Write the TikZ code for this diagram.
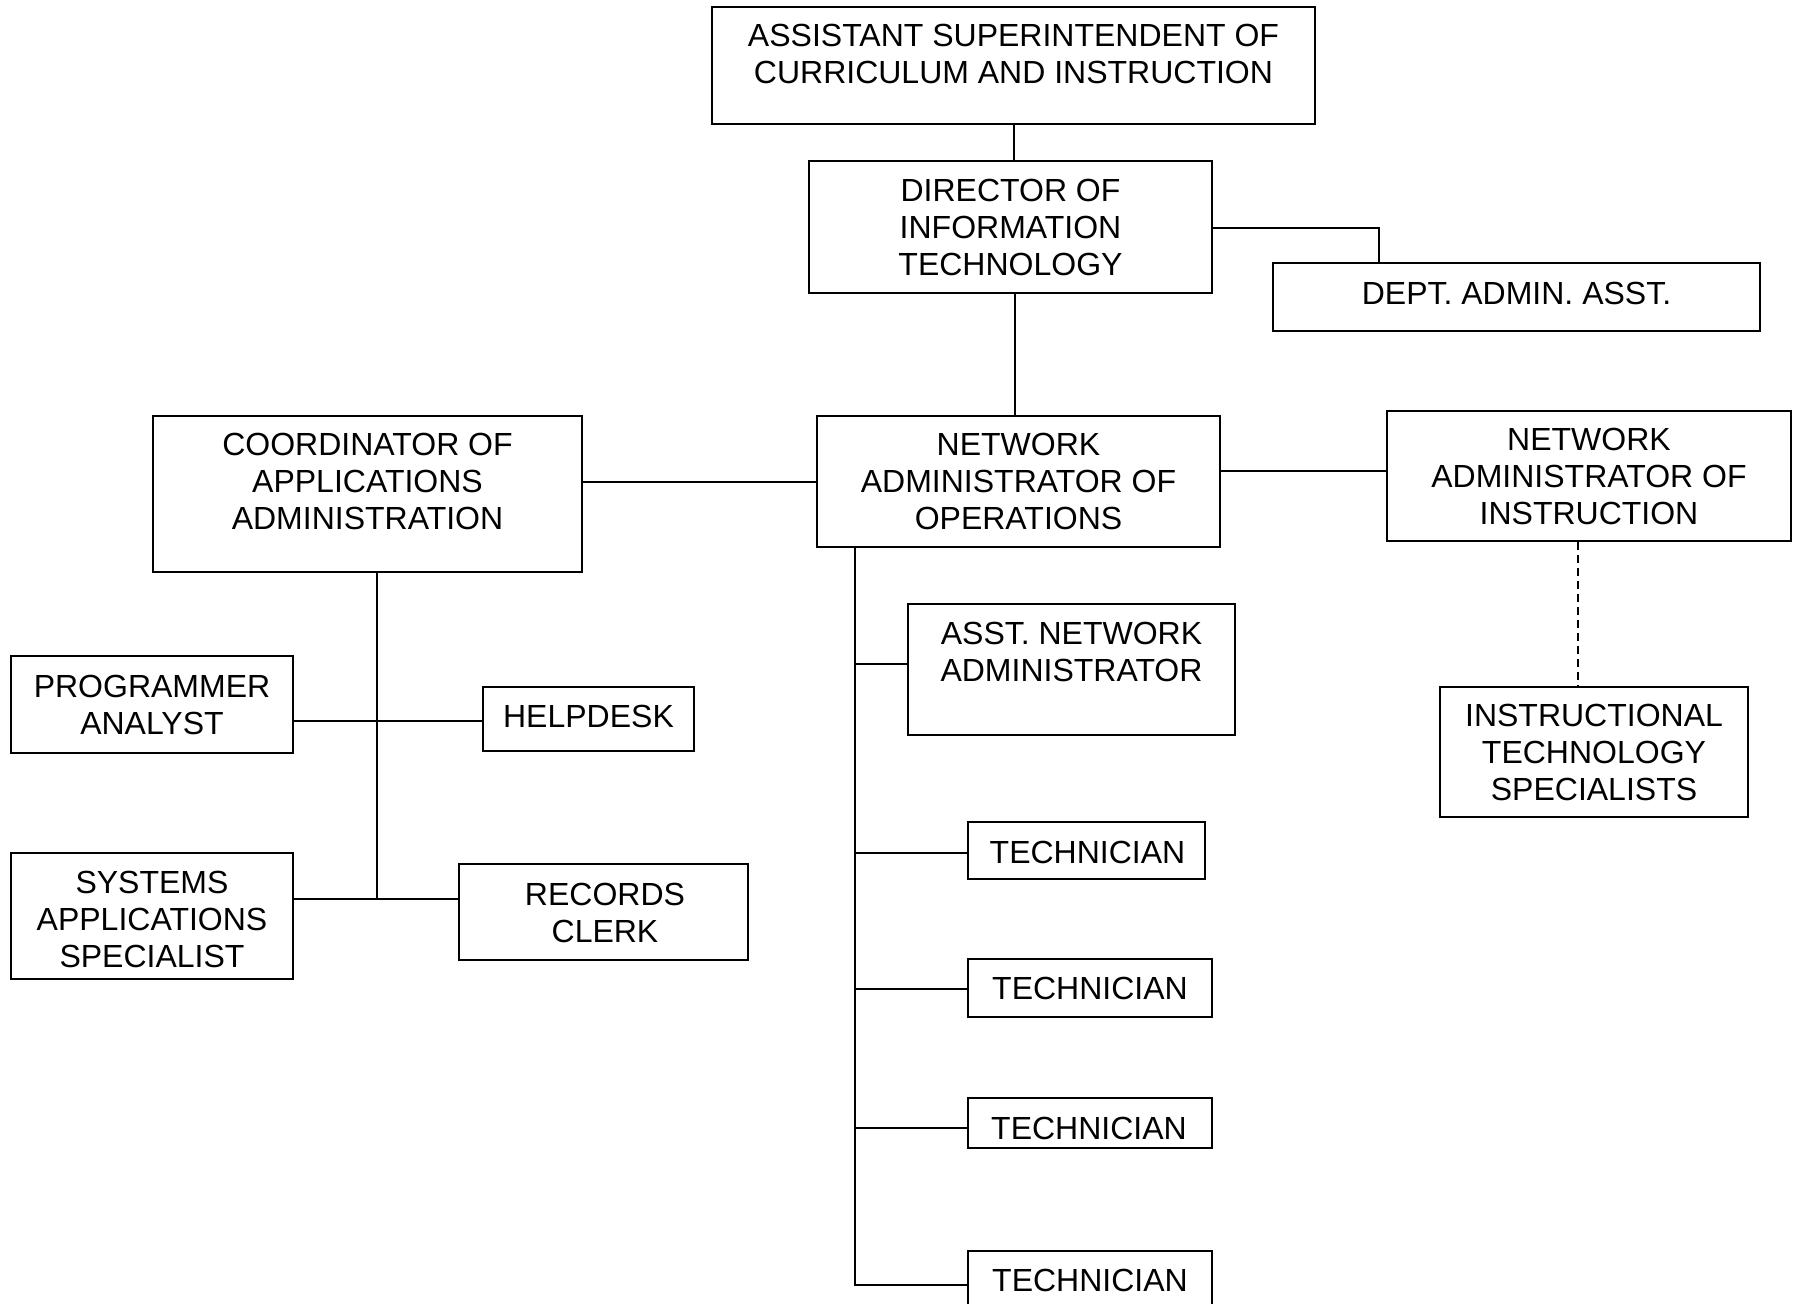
\documentclass[tikz,border=0pt]{standalone}
\usepackage{fontspec}
\setmainfont{Liberation Sans}
\begin{document}
\begin{tikzpicture}[x=0.5pt,y=-0.5pt,
  box/.style={draw,line width=1pt,rectangle,inner sep=0pt,align=center,
    font=\fontsize{16}{18.5}\selectfont},
  lbl/.style={inner sep=0pt,align=center,font=\fontsize{16}{18.5}\selectfont},
  conn/.style={line width=1pt},
  dconn/.style={line width=1pt,dash pattern=on 4pt off 2.5pt}]
\useasboundingbox (0,0) rectangle (1795,1303);
\clip (0,0) rectangle (1795,1303);
% boxes
\node[box,minimum width=301.5pt,minimum height=58.5pt] (asup) at (1013.5,65.5) {};
\node[lbl] (asupt) at (1013.5,54) {ASSISTANT SUPERINTENDENT OF\\CURRICULUM AND INSTRUCTION};
\node[box,minimum width=201.5pt,minimum height=66pt] (dir) at (1010.5,227) {DIRECTOR OF\\INFORMATION\\TECHNOLOGY};
\node[box,minimum width=243.5pt,minimum height=34pt] (dept) at (1516.5,297) {};
\node[lbl] (deptt) at (1516.5,293) {DEPT. ADMIN. ASST.};
\node[box,minimum width=201.5pt,minimum height=65.5pt] (nao) at (1018.5,481.5) {NETWORK\\ADMINISTRATOR OF\\OPERATIONS};
\node[box,minimum width=214.5pt,minimum height=78pt] (coord) at (367.5,494) {};
\node[lbl] (coordt) at (367.5,481) {COORDINATOR OF\\APPLICATIONS\\ADMINISTRATION};
\node[box,minimum width=202pt,minimum height=65pt] (nai) at (1589,476) {NETWORK\\ADMINISTRATOR OF\\INSTRUCTION};
\node[box,minimum width=154pt,minimum height=65pt] (its) at (1594,752) {INSTRUCTIONAL\\TECHNOLOGY\\SPECIALISTS};
\node[box,minimum width=163.5pt,minimum height=65.5pt] (ana) at (1071.5,669.5) {};
\node[lbl] (anat) at (1071.5,651.5) {ASST. NETWORK\\ADMINISTRATOR};
\node[box,minimum width=118.5pt,minimum height=28.5pt] (t1) at (1086.5,850.5) {};
\node[lbl] (t1t) at (1087.5,852.5) {TECHNICIAN};
\node[box,minimum width=122pt,minimum height=29pt] (t2) at (1090,988) {TECHNICIAN};
\node[box,minimum width=122pt,minimum height=25pt] (t3) at (1090,1123) {};
\node[lbl] (t3t) at (1089,1128) {TECHNICIAN};
\node[box,minimum width=122pt,minimum height=29.5pt] (t4) at (1090,1280.5) {TECHNICIAN};
\node[box,minimum width=141pt,minimum height=48.5pt] (prog) at (152,704.5) {PROGRAMMER\\ANALYST};
\node[box,minimum width=105.5pt,minimum height=32pt] (help) at (588.5,719) {};
\node[lbl] (helpt) at (588.5,716) {HELPDESK};
\node[box,minimum width=141pt,minimum height=63pt] (sys) at (152,916) {};
\node[lbl] (syst) at (152,919) {SYSTEMS\\APPLICATIONS\\SPECIALIST};
\node[box,minimum width=144.5pt,minimum height=48pt] (rec) at (603.5,912) {};
\node[lbl] (rect) at (605,912.5) {RECORDS\\CLERK};
% connectors
\coordinate (deptj) at (1379,228);
\coordinate (trunkR) at (855,1285);
\coordinate (trunkL) at (376.5,899);
\draw[conn] (asup.south) -- (asup.south |- dir.north);
\draw[conn] (dir.east |- deptj) -- (deptj) -- (deptj |- dept.north);
\draw[conn] (dir.south -| 1015,0) -- (nao.north -| 1015,0);
\draw[conn] (nao.west |- 0,482) -- (coord.east |- 0,482);
\draw[conn] (nao.east |- 0,470.5) -- (nai.west |- 0,470.5);
\draw[dconn] (nai.south -| 1577.5,0) -- (its.north -| 1577.5,0);
\draw[conn] (nao.south -| trunkR) -- (trunkR) -- (t4.west |- trunkR);
\draw[conn] (trunkR |- 0,664) -- (ana.west |- 0,664);
\draw[conn] (trunkR |- 0,853) -- (t1.west |- 0,853);
\draw[conn] (trunkR |- 0,989) -- (t2.west |- 0,989);
\draw[conn] (trunkR |- 0,1128) -- (t3.west |- 0,1128);
\draw[conn] (coord.south -| trunkL) -- (trunkL);
\draw[conn] (prog.east |- 0,721) -- (help.west |- 0,721);
\draw[conn] (sys.east |- trunkL) -- (rec.west |- trunkL);
\end{tikzpicture}
\end{document}
